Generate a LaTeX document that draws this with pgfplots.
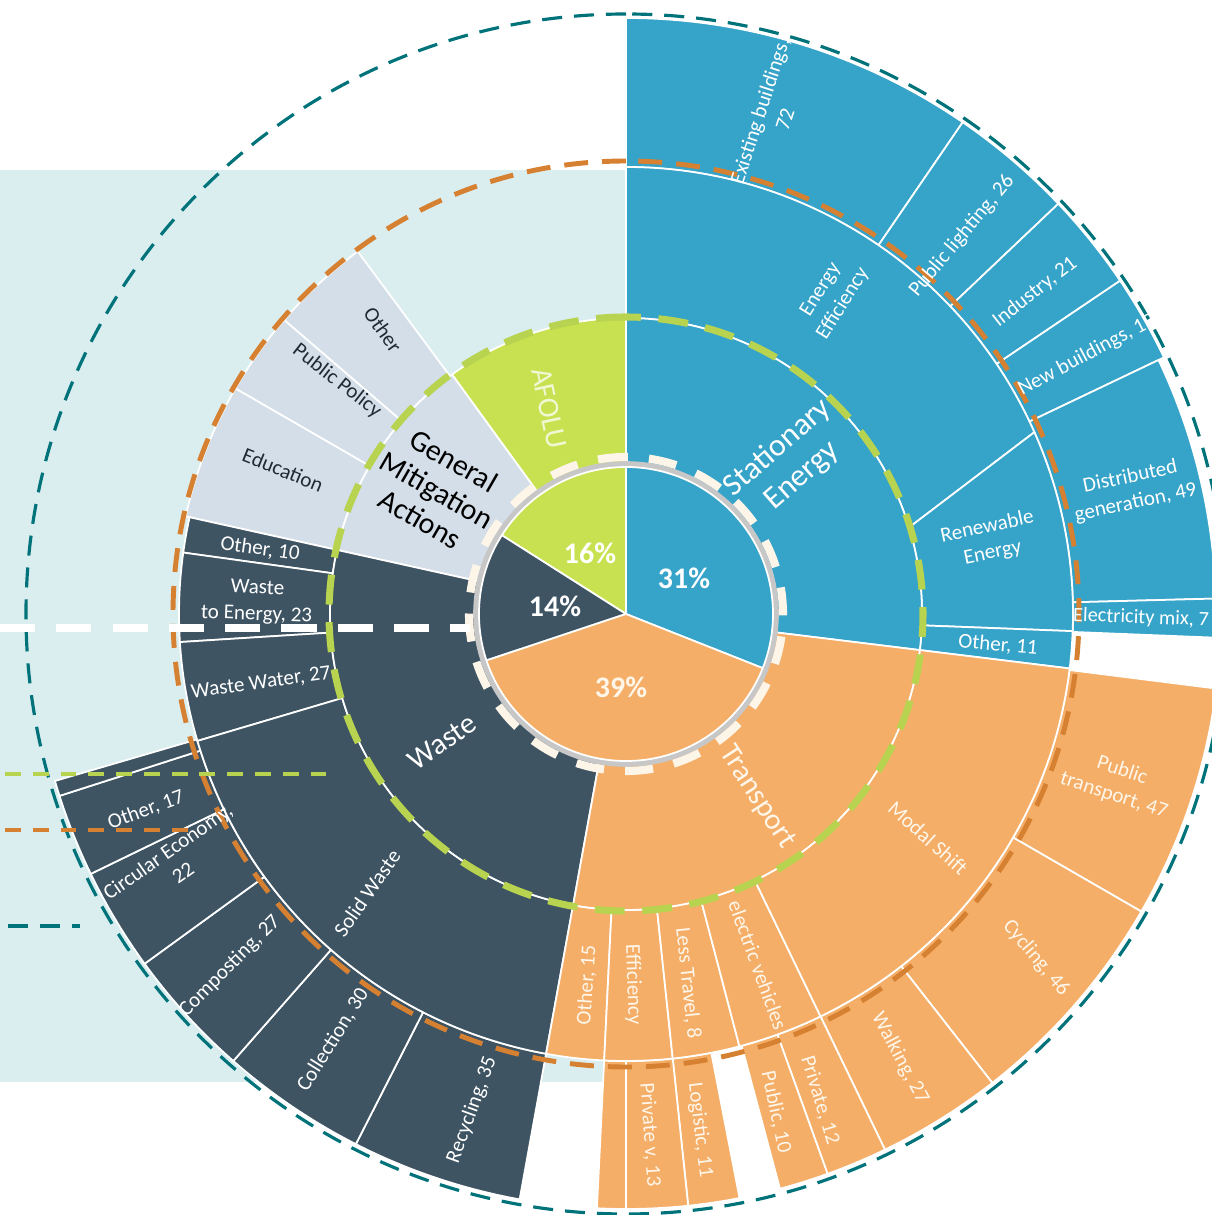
\documentclass[border=0pt]{standalone}
\usepackage{pgfplots}
\pgfplotsset{compat=1.18}
\usepackage{fontspec}
\setmainfont{Carlito}

\definecolor{cBlue}{HTML}{36A3C9}
\definecolor{cOrange}{HTML}{F4AE67}
\definecolor{cDark}{HTML}{3E5463}
\definecolor{cGreen}{HTML}{C8E150}
\definecolor{cLight}{HTML}{D3DEE8}
\definecolor{cBack}{HTML}{DAEDEF}
\definecolor{dTeal}{HTML}{00737A}
\definecolor{dOrange}{HTML}{D68032}
\definecolor{dGreen}{HTML}{B8D350}
\definecolor{dCream}{HTML}{FDF5E8}
\definecolor{tCream}{HTML}{FFF6EA}
\definecolor{tPale}{HTML}{F1F7D2}
\definecolor{tInk}{HTML}{1F2A33}

% ring sector: inner r, outer r, start angle, end angle, colour
\newcommand{\sect}[5]{\fill[#5,draw=white,line width=0.5pt]
  (#3:#1) arc[start angle=#3,end angle=#4,radius=#1] --
  (#4:#2) arc[start angle=#4,end angle=#3,radius=#2] -- cycle;}
% skewed sector: inner r, outer r, inner start, inner end, outer start, outer end, colour
\newcommand{\sectk}[7]{\fill[#7,draw=white,line width=0.5pt]
  (#3:#1) arc[start angle=#3,end angle=#4,radius=#1] --
  (#6:#2) arc[start angle=#6,end angle=#5,radius=#2] -- cycle;}
% pie slice: r, start, end, colour
\newcommand{\slice}[4]{\fill[#4,draw=white,line width=0.5pt]
  (0,0) -- (#2:#1) arc[start angle=#2,end angle=#3,radius=#1] -- cycle;}
% full ring drawn as an arc: r, style
\newcommand{\ring}[2]{\draw[#2] (90:#1) arc[start angle=90,end angle=450,radius=#1];}
% label: x, y (pixels from top left), rotation, size, skip, colour, text
\newcommand{\lbl}[7]{\node[text=#6,rotate=#3,align=center,inner sep=0pt,
  font=\fontsize{#4}{#5}\selectfont] at (axis cs:#1,-#2) {#7};}

\begin{document}
\begin{tikzpicture}
\begin{axis}[
  x=0.01cm, y=0.01cm, scale only axis,
  xmin=0, xmax=1212, ymin=-1215, ymax=0,
  hide axis, clip=true,
]
  % background panel
  \fill[cBack] (axis cs:0,-170) rectangle (axis cs:627,-1082);

  \begin{scope}[shift={(axis cs:626,-614)},
      x={(axis direction cs:1,0)}, y={(axis direction cs:0,1)}]
    % ---- ring 3 ----
    \sect{447}{596}{55.6}{90}{cBlue}     % Existing buildings 72
    \sect{447}{596}{43.5}{55.6}{cBlue}   % Public lighting 26
    \sect{447}{596}{34}{43.5}{cBlue}     % Industry 21
    \sect{447}{596}{25.5}{34}{cBlue}     % New buildings 19
    \sect{447}{590}{1.5}{25.5}{cBlue}    % Distributed generation 49
    \sect{447}{610}{-2.3}{1.5}{cBlue}    % Electricity mix 7
    \sect{447}{595}{330}{352.8}{cOrange} % Public transport 47
    \sect{447}{595}{308}{330}{cOrange}   % Cycling 46
    \sect{447}{595}{295.8}{308}{cOrange} % Walking 27
    \sect{447}{595}{289.8}{295.8}{cOrange} % Private 12
    \sect{447}{595}{285}{289.8}{cOrange} % Public 10
    \sect{447}{595}{276}{281}{cOrange}   % Logistic 11
    \sect{447}{595}{270}{276}{cOrange}   % Private v 13
    \sect{447}{595}{267.2}{270}{cOrange}
    \sect{447}{595}{243}{259.7}{cDark}   % Recycling 35
    \sect{447}{595}{228.7}{243}{cDark}   % Collection 30
    \sect{447}{595}{216}{228.7}{cDark}   % Composting 27
    \sect{447}{595}{205.9}{216}{cDark}   % Circular Economy 22
    \sect{447}{595}{197.8}{205.9}{cDark} % Other 17
    \sect{447}{595}{196.3}{197.8}{cDark}
    % ---- ring 2 ----
    \sectk{296}{447}{17}{90}{24}{90}{cBlue}      % Energy Efficiency
    \sectk{296}{447}{-2.2}{17}{-2.2}{24}{cBlue}  % Renewable Energy
    \sect{296}{447}{-7}{-2.2}{cBlue}     % Other 11
    \sect{296}{451}{126.5}{139.3}{cLight}% Other
    \sect{296}{451}{139.3}{150}{cLight}  % Public Policy
    \sect{296}{451}{150}{167.5}{cLight}  % Education
    \sect{296}{447}{167.5}{172.1}{cDark} % Other 10
    \sect{296}{447}{172.1}{183.6}{cDark} % Waste to Energy 23
    \sect{296}{447}{183.6}{196.5}{cDark} % Waste Water 27
    \sect{296}{447}{196.5}{259.7}{cDark} % Solid Waste
    \sect{296}{447}{259.7}{267.2}{cOrange} % Other 15
    \sect{296}{447}{267.2}{276}{cOrange} % Efficiency
    \sect{296}{447}{276}{284.7}{cOrange} % Less Travel 8
    \sect{296}{447}{284.7}{295.8}{cOrange} % electric vehicles
    \sect{296}{447}{295.8}{353}{cOrange} % Modal Shift
    % ---- ring 1 ----
    \sect{148}{296}{-7}{90}{cBlue}
    \sect{148}{296}{90}{126}{cGreen}
    \sect{148}{296}{126}{167.5}{cLight}
    \sect{148}{296}{167.5}{259.7}{cDark}
    \sect{148}{296}{259.7}{353}{cOrange}
    % ---- pie ----
    \slice{148}{-21.6}{90}{cBlue}
    \slice{148}{90}{147.6}{cGreen}
    \slice{148}{147.6}{198.4}{cDark}
    \slice{148}{198.4}{338.4}{cOrange}
    \ring{150}{black!22,line width=1.6pt}
    \ring{147}{white,line width=0.5pt}
    % ---- dashed rings ----
    \ring{157}{dCream,line width=2.3pt,dash pattern=on 8pt off 6pt}
    \ring{297}{dGreen,line width=2pt,dash pattern=on 8.5pt off 5pt}
    \ring{453}{dOrange,line width=1.4pt,dash pattern=on 6.8pt off 4pt}
    \ring{600}{dTeal,line width=0.9pt,dash pattern=on 5.7pt off 3.4pt}
  \end{scope}

  % leader lines on the left
  \draw[white,line width=2.3pt,dash pattern=on 10pt off 6pt] (axis cs:0,-628) -- (axis cs:470,-628);
  \draw[dGreen,line width=1.1pt,dash pattern=on 4.5pt off 3.4pt] (axis cs:5,-774) -- (axis cs:330,-774);
  \draw[dOrange,line width=1.1pt,dash pattern=on 4.5pt off 3.4pt] (axis cs:5,-830) -- (axis cs:190,-830);
  \draw[dTeal,line width=0.9pt,dash pattern=on 5.7pt off 3.4pt] (axis cs:8,-926) -- (axis cs:80,-926);

  % centre percentages
  \lbl{684}{578}{0}{8.5}{10}{white}{\bfseries 31\%}
  \lbl{621}{687}{0}{8.5}{10}{tCream}{\bfseries 39\%}
  \lbl{555}{606}{0}{8.5}{10}{white}{\bfseries 14\%}
  \lbl{590}{553}{0}{8.5}{10}{white}{\bfseries 16\%}
  % first ring
  \lbl{790}{462}{41}{9}{10.5}{white}{Stationary\\Energy}
  \lbl{437}{490}{-30}{8.5}{9.6}{black}{General\\Mitigation\\Actions}
  \lbl{549}{408}{-78}{8.5}{10}{tPale}{AFOLU}
  \lbl{442}{742}{35}{8.5}{10}{white}{Waste}
  \lbl{757}{797}{-57}{8.5}{10}{tCream}{Transport}
  % Stationary energy
  \lbl{832}{297}{58}{6}{7.5}{white}{Energy\\Efficiency}
  \lbl{990}{540}{12}{6}{7.5}{white}{Renewable\\Energy}
  \lbl{998}{645}{-5}{6}{7.5}{white}{Other, 11}
  \lbl{772}{115}{72}{6}{7.5}{white}{Existing buildings,\\72}
  \lbl{962}{236}{50}{6}{7.5}{white}{Public lighting, 26}
  \lbl{1035}{292}{38}{6}{7.5}{white}{Industry, 21}
  \lbl{1087}{355}{28}{6}{7.5}{white}{New buildings, 19}
  \lbl{1133}{490}{12}{6}{7.5}{white}{Distributed\\generation, 49}
  \lbl{1141}{618}{-2}{5.8}{7}{white}{Electricity mix, 7}
  % Transport
  \lbl{1118}{783}{-18}{6}{7.5}{tCream}{Public\\transport, 47}
  \lbl{928}{838}{-42}{6}{7.5}{tCream}{Modal Shift}
  \lbl{1036}{958}{-50}{6}{7.5}{tCream}{Cycling, 46}
  \lbl{900}{1058}{-62}{6}{7.5}{tCream}{Walking, 27}
  \lbl{820}{1100}{-73}{6}{7.5}{tCream}{Private, 12}
  \lbl{776}{1112}{-78}{6}{7.5}{tCream}{Public, 10}
  \lbl{758}{965}{-70}{6}{7.5}{tCream}{electric vehicles}
  \lbl{688}{983}{-84}{6}{7.5}{tCream}{Less Travel, 8}
  \lbl{633}{985}{-88}{6}{7.5}{tCream}{Efficiency}
  \lbl{587}{985}{86}{6}{7.5}{tCream}{Other, 15}
  \lbl{650}{1135}{-86}{6}{7.5}{tCream}{Private v, 13}
  \lbl{700}{1130}{-83}{6}{7.5}{tCream}{Logistic, 11}
  % Waste
  \lbl{367}{893}{55}{6}{7.5}{white}{Solid Waste}
  \lbl{146}{810}{20}{6}{7.5}{white}{Other, 17}
  \lbl{175}{862}{35}{6}{7.5}{white}{Circular Economy,\\22}
  \lbl{230}{966}{45}{6}{7.5}{white}{Composting, 27}
  \lbl{333}{1040}{58}{6}{7.5}{white}{Collection, 30}
  \lbl{472}{1110}{70}{6}{7.5}{white}{Recycling, 35}
  \lbl{261}{683}{8}{6}{7.5}{white}{Waste Water, 27}
  \lbl{257}{602}{-2}{6}{7.5}{white}{Waste\\to Energy, 23}
  \lbl{260}{549}{-8}{6}{7.5}{white}{Other, 10}
  % General mitigation actions
  \lbl{283}{470}{-22}{6}{7.5}{tInk}{Education}
  \lbl{337}{381}{-38}{6}{7.5}{tInk}{Public Policy}
  \lbl{383}{330}{-55}{6}{7.5}{tInk}{Other}
\end{axis}
\pgfresetboundingbox
\path[use as bounding box] (current axis.south west) rectangle (current axis.north east);
\end{tikzpicture}
\end{document}
